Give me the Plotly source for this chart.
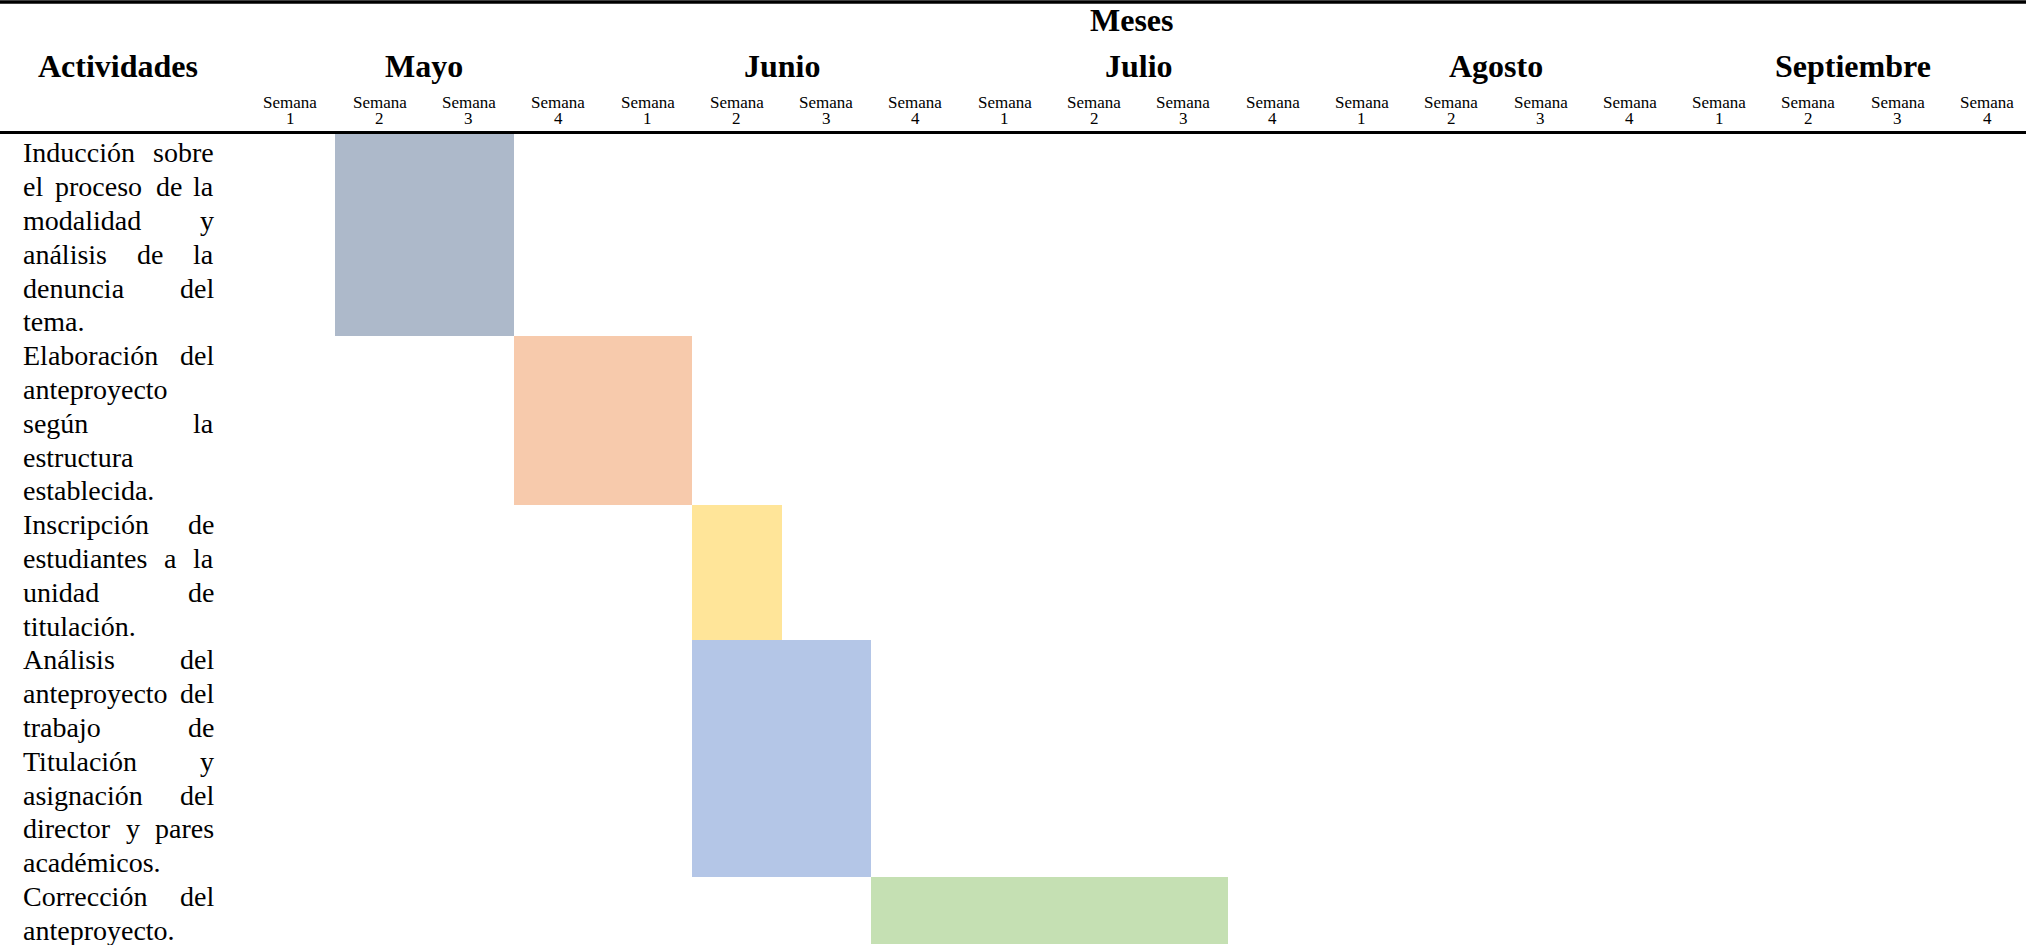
import plotly.graph_objects as go

# ---------------- data ----------------
MESES_TITULO = "Meses"
COL_TITULO = "Actividades"
MESES = ["Mayo", "Junio", "Julio", "Agosto", "Septiembre"]
SEMANAS = ["1", "2", "3", "4"]
ACTIVIDADES = [
    ["Inducción sobre", "el proceso de la", "modalidad y", "análisis de la", "denuncia del", "tema."],
    ["Elaboración del", "anteproyecto", "según la", "estructura", "establecida."],
    ["Inscripción de", "estudiantes a la", "unidad de", "titulación."],
    ["Análisis del", "anteproyecto del", "trabajo de", "Titulación y", "asignación del",
     "director y pares", "académicos."],
    ["Corrección del", "anteproyecto."],
]
SEMANA_INICIO = [2, 4, 6, 6, 8]   # column (week) where each activity starts, 1-based
DURACION = [2, 2, 1, 2, 4]         # number of weeks
COLORES = ["#ADB9CA", "#F7CAAC", "#FFE599", "#B4C6E7", "#C5E0B3"]

# ---------------- layout constants ----------------
W, H = 2026, 945
HEADER_PX = 133.0
LINE_PX = 33.8
EDGE1_PX = 335.0
COL_PX = 89.3
FONT = "Liberation Serif"
FS_TXT = 28
FS_HEAD = 32
TXT_LEFT, TXT_RIGHT = 21.0, 216.0

# Times / Liberation Serif advance widths (per 1000 em)
TW = {' ': 250, '.': 250, 'a': 444, 'b': 500, 'c': 444, 'd': 500, 'e': 444, 'f': 333, 'g': 500,
      'h': 500, 'i': 278, 'j': 278, 'k': 500, 'l': 278, 'm': 778, 'n': 500, 'o': 500, 'p': 500,
      'q': 500, 'r': 333, 's': 389, 't': 278, 'u': 500, 'v': 500, 'w': 722, 'x': 500, 'y': 500,
      'z': 444, 'á': 444, 'é': 444, 'í': 278, 'ó': 500, 'ú': 500, 'A': 722, 'C': 667, 'E': 611,
      'I': 333, 'T': 611}


def tw(s):
    return sum(TW.get(c, 500) for c in s) * FS_TXT / 1000.0


def px_to_k(px):
    return 1 + (px - EDGE1_PX) / COL_PX


def py_to_paper(py):
    return 1 - py / H


xr = [px_to_k(0), px_to_k(W)]
yr = [(H - HEADER_PX) / LINE_PX, -HEADER_PX / LINE_PX]

fig = go.Figure()

# bars
start_line = 0
for acts, s, d, col in zip(ACTIVIDADES, SEMANA_INICIO, DURACION, COLORES):
    n = len(acts)
    fig.add_trace(go.Bar(
        orientation="h", base=[s - 1], x=[d], y=[start_line + n / 2], width=[n],
        marker=dict(color=col, line=dict(width=0)), showlegend=False, hoverinfo="skip"))
    start_line += n

annotations = []

# activity texts (justified)
line_idx = 0
for acts in ACTIVIDADES:
    for j, ln in enumerate(acts):
        yc = line_idx + 0.5
        words = ln.split(" ")
        last = (j == len(acts) - 1)
        if last or len(words) == 1:
            annotations.append(dict(x=TXT_LEFT / W, xref="paper", y=yc, yref="y", text=ln,
                                    xanchor="left", yanchor="middle", showarrow=False, yshift=-3,
                                    font=dict(family=FONT, size=FS_TXT, color="black")))
        else:
            widths = [tw(w) for w in words]
            gap = (TXT_RIGHT - TXT_LEFT - sum(widths)) / (len(words) - 1)
            xpos = TXT_LEFT
            for wi, (w, wd) in enumerate(zip(words, widths)):
                if wi == 0:
                    xa, xx = "left", xpos
                elif wi == len(words) - 1:
                    xa, xx = "right", TXT_RIGHT
                else:
                    xa, xx = "center", xpos + wd / 2
                annotations.append(dict(x=xx / W, xref="paper", y=yc, yref="y", text=w,
                                        xanchor=xa, yanchor="middle", showarrow=False, yshift=-3,
                                        font=dict(family=FONT, size=FS_TXT, color="black")))
                xpos += wd + gap
        line_idx += 1

# header
annotations.append(dict(x=1132 / W, xref="paper", y=py_to_paper(20), yref="paper", text="<b>%s</b>" % MESES_TITULO,
                        showarrow=False, xanchor="center", yanchor="middle",
                        font=dict(family=FONT, size=FS_HEAD, color="black")))
annotations.append(dict(x=118 / W, xref="paper", y=py_to_paper(66), yref="paper", text="<b>%s</b>" % COL_TITULO,
                        showarrow=False, xanchor="center", yanchor="middle",
                        font=dict(family=FONT, size=FS_HEAD, color="black")))
for m, mes in enumerate(MESES):
    annotations.append(dict(x=4 * m + 2, xref="x", y=py_to_paper(66), yref="paper", text="<b>%s</b>" % mes,
                            showarrow=False, xanchor="center", yanchor="middle",
                            font=dict(family=FONT, size=FS_HEAD, color="black")))
    for w, sem in enumerate(SEMANAS):
        c = 4 * m + w + 0.5
        annotations.append(dict(x=c, xref="x", y=py_to_paper(102), yref="paper", text="Semana",
                                showarrow=False, xanchor="center", yanchor="middle",
                                font=dict(family=FONT, size=17, color="black")))
        annotations.append(dict(x=c, xref="x", y=py_to_paper(119), yref="paper", text=sem,
                                showarrow=False, xanchor="center", yanchor="middle",
                                font=dict(family=FONT, size=17, color="black")))

shapes = [
    dict(type="line", xref="paper", yref="paper", x0=0, x1=1, y0=py_to_paper(2), y1=py_to_paper(2),
         line=dict(color="black", width=3.5)),
    dict(type="line", xref="paper", yref="paper", x0=0, x1=1, y0=py_to_paper(132.5), y1=py_to_paper(132.5),
         line=dict(color="black", width=3)),
]

fig.update_layout(
    width=W, height=H, margin=dict(l=0, r=0, t=0, b=0),
    paper_bgcolor="white", plot_bgcolor="white",
    xaxis=dict(range=xr, visible=False, fixedrange=True),
    yaxis=dict(range=yr, visible=False, fixedrange=True),
    annotations=annotations, shapes=shapes, barmode="overlay", bargap=0,
)

fig.write_html("out.html")
